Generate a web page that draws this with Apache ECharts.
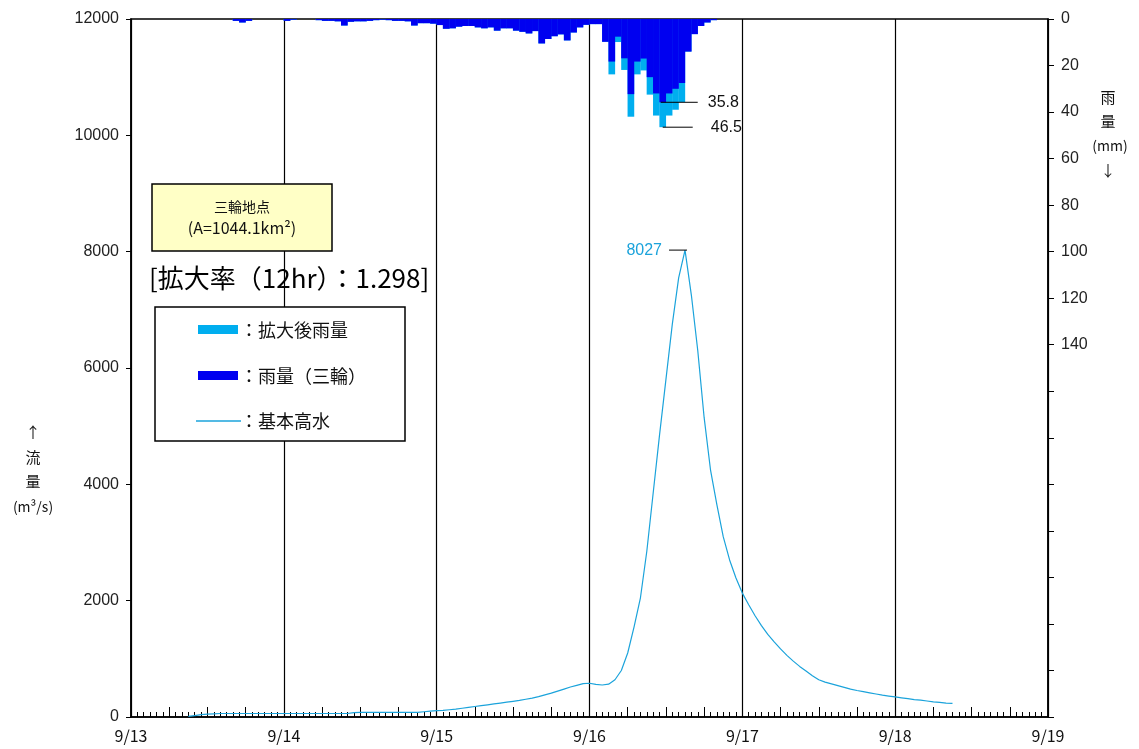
<!DOCTYPE html>
<html><head><meta charset="utf-8">
<script src="https://cdn.jsdelivr.net/npm/echarts@6.0.0/dist/echarts.min.js"></script>
<style>html,body{margin:0;padding:0;background:#fff;}#c{width:1139px;height:749px;}</style>
</head><body><div id="c"></div>
<script>
// ---- data (hourly, 9/13 00:00 .. 9/19 00:00) ----
const dayLabels = ['9/13','9/14','9/15','9/16','9/17','9/18','9/19'];
// observed rainfall (三輪), mm/hr
const rainObs0913 = [0,0,0,0,0,0,0,0,0,0,0,0,0,0,0,0,0.8,1.5,0.8,0,0,0,0,0];
const rainObs0914 = [0.8,0.3,0,0,0,0.5,0.8,0.8,1,2.8,1.2,1,1,0.8,0.5,0.3,0.5,0.8,0.8,1,2.8,1.8,1.8,2];
const rainObs0915 = [2.6,4.2,4,3.3,3,3,3.6,4,3.6,5,4,4,5,5.5,6.2,5.2,10.5,8.6,7.4,6.6,9.2,5.8,3.6,2.5];
const rainObs0916 = [2.2,2.2,9.8,18.3,7.6,16.9,32.3,18.3,17,25,32,35.8,32,30,27.5,14,6.5,3,1.5,0.5,0,0,0,0];
const rainObs0917 = [0,0,0,0,0,0,0,0,0,0,0,0,0,0,0,0,0,0,0,0,0,0,0,0];
const rainObs0918 = [0,0,0,0,0,0,0,0,0,0,0,0,0,0,0,0,0,0,0,0,0,0,0,0];
// enlarged rainfall (拡大後雨量), mm/hr
const rainExp0913 = [0,0,0,0,0,0,0,0,0,0,0,0,0,0,0,0,0.8,1.5,0.8,0,0,0,0,0];
const rainExp0914 = [0.8,0.3,0,0,0,0.5,0.8,0.8,1,2.8,1.2,1,1,0.8,0.5,0.3,0.5,0.8,0.8,1,2.8,1.8,1.8,2];
const rainExp0915 = [2.6,4.2,4,3.3,3,3,3.6,4,3.6,5,4,4,5,5.5,6.2,5.2,10.5,8.6,7.4,6.6,9.2,5.8,3.6,2.5];
const rainExp0916 = [2.2,2.2,9.8,23.8,9.9,21.9,42,23.8,22.1,32.5,41.5,46.5,41.5,39,35.7,14,6.5,3,1.5,0.5,0,0,0,0];
const rainExp0917 = [0,0,0,0,0,0,0,0,0,0,0,0,0,0,0,0,0,0,0,0,0,0,0,0];
const rainExp0918 = [0,0,0,0,0,0,0,0,0,0,0,0,0,0,0,0,0,0,0,0,0,0,0,0];
// 基本高水 discharge, m3/s
const flow0913 = [null,null,null,null,null,null,null,null,null,10,25,40,50,55,60,60,60,60,60,60,60,60,60,60];
const flow0914 = [60,60,60,60,60,60,60,60,60,60,60,75,80,80,80,80,80,80,80,80,80,80,90,100];
const flow0915 = [110,115,125,135,150,165,180,195,210,225,240,255,270,285,305,325,350,380,410,445,480,515,545,575];
const flow0916 = [580,560,550,565,640,800,1100,1550,2050,2850,3850,4850,5800,6750,7550,8027,7250,6300,5150,4250,3650,3100,2700,2390];
const flow0917 = [2130,1930,1740,1570,1420,1290,1170,1060,960,870,790,710,640,600,570,540,510,480,455,435,415,395,375,360];
const flow0918 = [345,330,315,300,290,275,260,250,240,234,null,null,null,null,null,null,null,null,null,null,null,null,null,null];

const rainObs = [].concat(rainObs0913,rainObs0914,rainObs0915,rainObs0916,rainObs0917,rainObs0918);
const rainExp = [].concat(rainExp0913,rainExp0914,rainExp0915,rainExp0916,rainExp0917,rainExp0918);
const flow = [].concat(flow0913,flow0914,flow0915,flow0916,flow0917,flow0918);

const obsData = rainObs.map((v,i)=>[i+0.5,v]);
const expData = rainExp.map((v,i)=>[i+0.5,v]);
const flowData = flow.map((v,i)=>[i,v]);

const LIGHT = '#00AEEF', DARK = '#0000F0', LINE = '#1BA3DB';
const JP = "'Noto Sans CJK JP', sans-serif";
const NUM = "'Liberation Sans', Arial, sans-serif";
const G = {left:131, top:19, right:91, bottom:32};
const barW = (1139 - G.left - G.right) / 144 + 0.3;

const chart = echarts.init(document.getElementById('c'), null, {renderer:'canvas'});
chart.setOption({
  animation:false,
  backgroundColor:'#fff',
  grid:{left:G.left, top:G.top, right:G.right, bottom:G.bottom, show:true, borderColor:'#000', borderWidth:1.5, backgroundColor:'transparent'},
  xAxis:[{
    type:'value', min:0, max:144, interval:24, position:'bottom',
    axisLine:{show:true, onZero:false, lineStyle:{color:'#000', width:1.5}},
    axisTick:{show:true, inside:true, length:12, lineStyle:{color:'#000'}},
    minorTick:{show:true, splitNumber:24, length:5, lineStyle:{color:'#000'}},
    splitLine:{show:true, lineStyle:{color:'#000', width:1.2}},
    axisLabel:{formatter:v=>dayLabels[Math.round(v/24)], fontSize:16, color:'#111', fontFamily:JP, margin:11}
  },{
    type:'value', min:0, max:144, interval:6, position:'bottom',
    axisLine:{show:false, onZero:false}, axisTick:{show:true, inside:true, length:10, lineStyle:{color:'#000'}},
    splitLine:{show:false}, axisLabel:{show:false}
  }],
  yAxis:[{
    type:'value', min:0, max:12000, interval:2000, position:'left',
    axisLine:{show:true, onZero:false, lineStyle:{color:'#000', width:1.5}},
    axisTick:{show:true, length:5, lineStyle:{color:'#000'}},
    splitLine:{show:false},
    axisLabel:{fontSize:16, color:'#222', fontFamily:NUM, margin:12, formatter:v=>String(v)}
  },{
    type:'value', min:0, max:300, interval:20, inverse:true, position:'right',
    axisLine:{show:true, onZero:false, lineStyle:{color:'#000', width:1.5}},
    axisTick:{show:true, length:6, lineStyle:{color:'#000'}},
    splitLine:{show:false},
    axisLabel:{fontSize:16, color:'#222', fontFamily:NUM, margin:13, formatter:v=> v<=140 ? String(v) : ''}
  }],
  series:[
    {name:'拡大後雨量', type:'bar', xAxisIndex:0, yAxisIndex:1, data:expData, barWidth:barW, barGap:'-100%', itemStyle:{color:LIGHT}, z:2},
    {name:'雨量（三輪）', type:'bar', xAxisIndex:0, yAxisIndex:1, data:obsData, barWidth:barW, barGap:'-100%', itemStyle:{color:DARK}, z:3},
    {name:'基本高水', type:'line', xAxisIndex:0, yAxisIndex:0, data:flowData, showSymbol:false, symbol:'none', connectNulls:false, lineStyle:{color:LINE, width:1.2}, z:4}
  ]
});

// annotations positioned through the library's scales
let iPk = 0; flow.forEach((v,i)=>{ if(v!=null && v>flow[iPk]) iPk=i; });
let iR = 0; rainExp.forEach((v,i)=>{ if(v>rainExp[iR]) iR=i; });
const pk = chart.convertToPixel({xAxisIndex:0, yAxisIndex:0}, [iPk, flow[iPk]]);
const rO = chart.convertToPixel({xAxisIndex:0, yAxisIndex:1}, [iR+0.5, rainObs[iR]]);
const rE = chart.convertToPixel({xAxisIndex:0, yAxisIndex:1}, [iR+0.5, rainExp[iR]]);

const T = (x,y,text,opt)=>({type:'text', x:x, y:y, style:Object.assign({text:text, fill:'#111', font:'14px '+JP, textAlign:'center', textVerticalAlign:'middle'}, opt||{}), z:100});
chart.setOption({graphic:[
  // station box
  {type:'rect', shape:{x:152, y:184, width:180, height:67}, style:{fill:'#FFFFC6', stroke:'#000', lineWidth:1.5}, z:90},
  T(242, 207, '三輪地点', {font:'14px '+JP}),
  T(242, 228, '(A=1044.1km²)', {font:'16px '+JP}),
  T(149, 278, '[拡大率（12hr）：1.298]', {font:'26px '+JP, textAlign:'left', fill:'#000'}),
  // legend box
  {type:'rect', shape:{x:155, y:307, width:250, height:134}, style:{fill:'#fff', stroke:'#000', lineWidth:1.5}, z:90},
  {type:'rect', shape:{x:198, y:325, width:40, height:9}, style:{fill:LIGHT}, z:100},
  T(240, 330, '：拡大後雨量', {font:'18px '+JP, textAlign:'left'}),
  {type:'rect', shape:{x:198, y:371, width:40, height:9}, style:{fill:DARK}, z:100},
  T(240, 376, '：雨量（三輪）', {font:'18px '+JP, textAlign:'left'}),
  {type:'line', shape:{x1:196, y1:421, x2:241, y2:421}, style:{stroke:LINE, lineWidth:1.3}, z:100},
  T(240, 421, '：基本高水', {font:'18px '+JP, textAlign:'left'}),
  // axis names
  T(33, 432, '↑', {font:'15px '+JP}),
  T(33, 457, '流', {font:'15px '+JP}),
  T(33, 481, '量', {font:'15px '+JP}),
  T(33, 507, '(m³/s)', {font:'14px '+JP}),
  T(1108, 97, '雨', {font:'15px '+JP}),
  T(1108, 121, '量', {font:'15px '+JP}),
  T(1110, 146, '(mm)', {font:'14px '+JP}),
  T(1108, 170, '↓', {font:'15px '+JP}),
  // peak annotation
  {type:'line', shape:{x1:pk[0]-16, y1:pk[1], x2:pk[0]+2, y2:pk[1]}, style:{stroke:'#000', lineWidth:1}, z:100},
  T(pk[0]-23, pk[1], String(flow[iPk]), {font:'16px '+NUM, textAlign:'right', fill:LINE}),
  // rain annotations
  {type:'line', shape:{x1:rO[0]-2, y1:rO[1], x2:rO[0]+35, y2:rO[1]}, style:{stroke:'#000', lineWidth:1}, z:100},
  T(rO[0]+45, rO[1], String(rainObs[iR]), {font:'16px '+NUM, textAlign:'left'}),
  {type:'line', shape:{x1:rE[0], y1:rE[1], x2:rE[0]+30, y2:rE[1]}, style:{stroke:'#000', lineWidth:1}, z:100},
  T(rE[0]+48, rE[1], String(rainExp[iR]), {font:'16px '+NUM, textAlign:'left'})
]});
</script></body></html>
